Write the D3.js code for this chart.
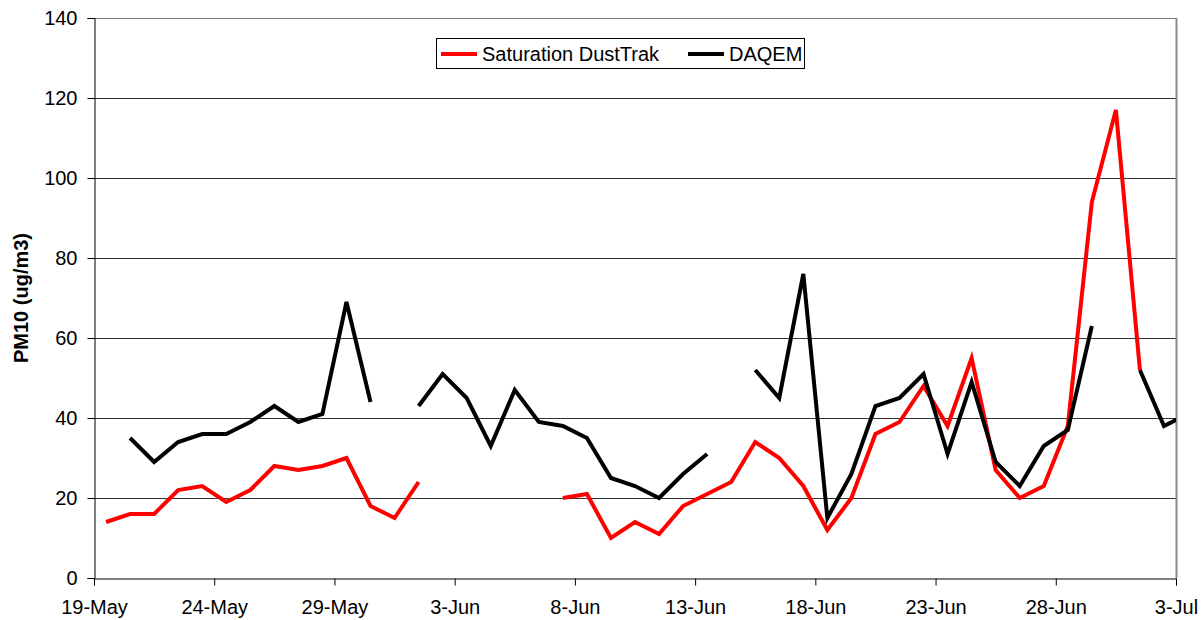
<!DOCTYPE html>
<html>
<head>
<meta charset="utf-8">
<script src="https://cdn.jsdelivr.net/npm/d3@7"></script>
<style>
  html, body { margin: 0; padding: 0; background: #fff; }
  svg { display: block; font-family: "Liberation Sans", Arial, sans-serif; }
</style>
</head>
<body>
<svg id="chart" width="1203" height="620"></svg>
<script>
// ---- Data (daily values, 19-May .. 3-Jul) ----
const startDate = "19-May";
const endDate = "3-Jul";
const dustTrak = [14, 16, 16, 22, 23, 19, 22, 28, 27, 28, 30, 18, 15, 24,
  null, null, null, null, null,
  20, 21, 10, 14, 11, 18, 21, 24, 34, 30, 23, 12, 20, 36, 39, 48, 38, 55, 27, 20, 23, 38, 94, 117, 52,
  null, null];
const daqem = [null, 35, 29, 34, 36, 36, 39, 43, 39, 41, 69, 44, null,
  43, 51, 45, 33, 47, 39, 38, 35, 25, 23, 20, 26, 31, null,
  52, 45, 76, 15, 26, 43, 45, 51, 31, 49, 29, 23, 33, 37, 63, null, 52, 38, 41];
const seriesNames = ["Saturation DustTrak", "DAQEM"];
const seriesColors = ["#ff0000", "#000000"];
const xTickLabels = ["19-May", "24-May", "29-May", "3-Jun", "8-Jun", "13-Jun", "18-Jun", "23-Jun", "28-Jun", "3-Jul"];
const yTicks = [0, 20, 40, 60, 80, 100, 120, 140];
const yTitle = "PM10 (ug/m3)";

(function () {
// ---- Layout ----
const pL = 94, pR = 1176, pT = 18, pB = 578;
const parse = s => d3.utcParse("%d-%b-%Y")(s + "-2008");
const t0 = parse(startDate), t1 = parse(endDate);
const dayDates = dustTrak.map((_, i) => d3.utcHour.offset(d3.utcDay.offset(t0, i), 12));

const x = d3.scaleUtc().domain([t0, t1]).range([pL, pR]);
const y = d3.scaleLinear().domain([0, 140]).range([pB, pT]);

const svg = d3.select("#chart");

// gridlines
svg.append("g").selectAll("line").data(yTicks.filter(v => v > 0)).join("line")
  .attr("x1", pL).attr("x2", pR)
  .attr("y1", d => Math.round(y(d)) + 0.5).attr("y2", d => Math.round(y(d)) + 0.5)
  .attr("stroke", d => d === 140 ? "#777" : "#333").attr("stroke-width", 1);

// right border
svg.append("line").attr("x1", pR + 0.5).attr("x2", pR + 0.5)
  .attr("y1", pT).attr("y2", pB).attr("stroke", "#8a8a8a").attr("stroke-width", 2);

// y axis
const yAxis = d3.axisLeft(y).tickValues(yTicks).tickSize(7).tickPadding(10);
const gy = svg.append("g").attr("transform", `translate(${pL + 0.5},0)`).call(yAxis);
gy.select(".domain").attr("stroke", "#000");
gy.selectAll(".tick line").attr("stroke", "#000");
gy.selectAll(".tick text").attr("font-size", 20).attr("fill", "#000")
  .attr("font-family", "'Liberation Sans', Arial, sans-serif");
gy.selectAll(".tick").attr("transform", d => `translate(0,${Math.round(y(d)) + 0.5})`);

// x axis
const xAxis = d3.axisBottom(x).tickValues(xTickLabels.map(parse))
  .tickFormat(d3.utcFormat("%-d-%b")).tickSize(7).tickPadding(14);
const gx = svg.append("g").attr("transform", `translate(0,${pB + 0.5})`).call(xAxis);
gx.select(".domain").attr("stroke", "#000");
gx.selectAll(".tick line").attr("stroke", "#000");
gx.selectAll(".tick text").attr("font-size", 20).attr("fill", "#000")
  .attr("font-family", "'Liberation Sans', Arial, sans-serif");

// clip
svg.append("clipPath").attr("id", "plotclip").append("rect")
  .attr("x", pL).attr("y", pT - 5).attr("width", pR - pL).attr("height", pB - pT + 10);

const line = d3.line()
  .defined(d => d.v != null)
  .x(d => x(d.t)).y(d => y(d.v));

const series = [dustTrak, daqem];
series.forEach((vals, k) => {
  svg.append("path")
    .datum(vals.map((v, i) => ({ t: dayDates[i], v })))
    .attr("clip-path", "url(#plotclip)")
    .attr("fill", "none")
    .attr("stroke", seriesColors[k])
    .attr("stroke-width", 4)
    .attr("stroke-linejoin", "miter")
    .attr("d", line);
});

// y title
svg.append("text")
  .attr("transform", `translate(28,${(pT + pB) / 2}) rotate(-90)`)
  .attr("text-anchor", "middle")
  .attr("font-size", 20).attr("font-weight", "bold")
  .text(yTitle);

// legend
const lg = svg.append("g");
lg.append("rect").attr("x", 436.5).attr("y", 38.5).attr("width", 368).attr("height", 30)
  .attr("fill", "#fff").attr("stroke", "#000").attr("stroke-width", 1);
const legendX = [441, 688];
seriesNames.forEach((name, k) => {
  lg.append("line").attr("x1", legendX[k]).attr("x2", legendX[k] + 36)
    .attr("y1", 54).attr("y2", 54).attr("stroke", seriesColors[k]).attr("stroke-width", 4);
  lg.append("text").attr("x", legendX[k] + 41).attr("y", 61)
    .attr("font-size", 20).attr("fill", "#000").text(name);
});
})();
</script>
</body>
</html>
